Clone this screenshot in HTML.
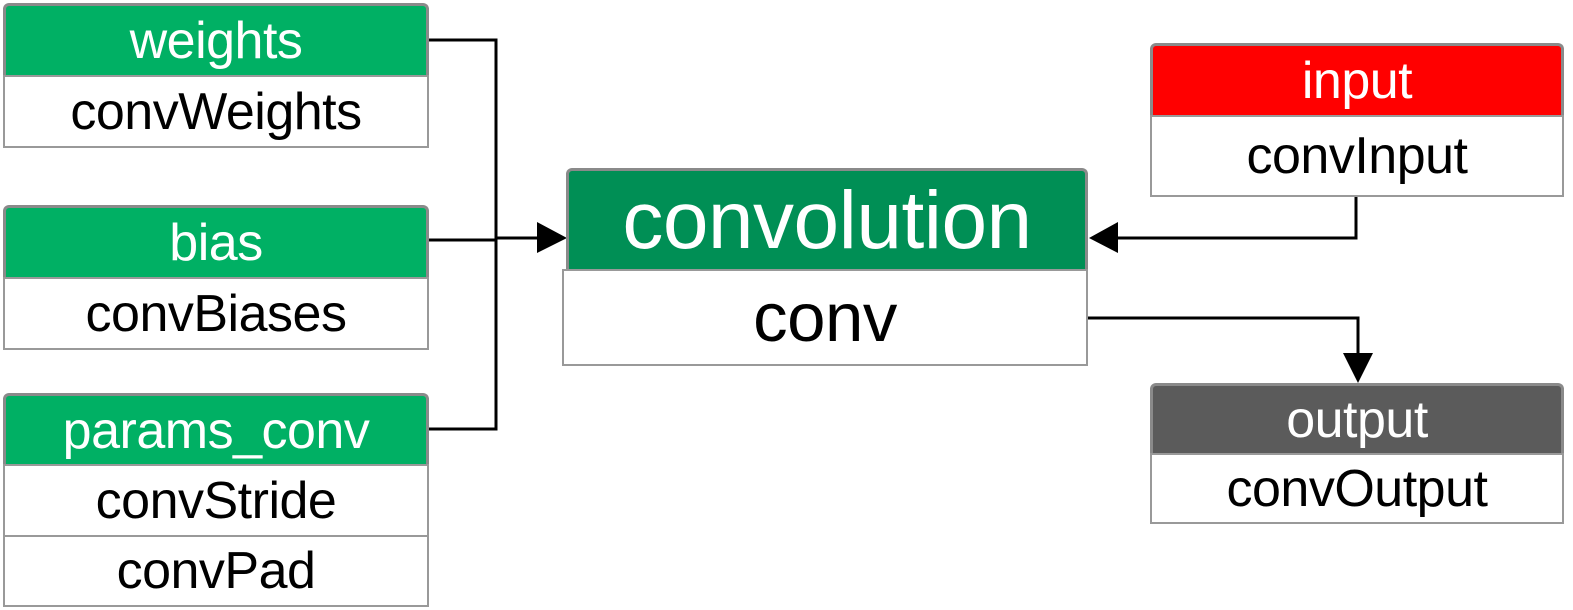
<!DOCTYPE html>
<html><head><style>
body{margin:0;width:1573px;height:610px;background:#fff;position:relative;overflow:hidden;font-family:"Liberation Sans",sans-serif}
.h,.b{position:absolute;box-sizing:border-box;display:flex;align-items:center;justify-content:center;letter-spacing:-0.5px;white-space:nowrap}
.h{border:3px solid #8a8a8a;border-bottom:none;border-radius:6px 6px 0 0;color:#fff;font-size:52px}
.b{border:2px solid #999;background:#fff;color:#000;font-size:52px}
.g{background:#00b064}
</style></head><body>
<svg style="position:absolute;left:0;top:0" width="1573" height="610">
<g stroke="#000" stroke-width="3" fill="none">
<polyline points="428,40 496,40 496,429 428,429"/>
<line x1="428" y1="240" x2="496" y2="240"/>
<line x1="496" y1="238" x2="540" y2="238"/>
<polyline points="1356,196 1356,238 1118,238"/>
<polyline points="1088,318 1358,318 1358,355"/>
</g>
<polygon points="537,222 567,238 537,253" fill="#000"/>
<polygon points="1118,222 1089,238 1118,253" fill="#000"/>
<polygon points="1343,353 1373,353 1358,383" fill="#000"/>
</svg>
<div class="h g" style="left:3px;top:3px;width:426px;height:73px">weights</div>
<div class="b" style="left:3px;top:75px;width:426px;height:73px">convWeights</div>
<div class="h g" style="left:3px;top:205px;width:426px;height:73px">bias</div>
<div class="b" style="left:3px;top:277px;width:426px;height:73px">convBiases</div>
<div class="h g" style="left:3px;top:393px;width:426px;height:72px">params_conv</div>
<div class="b" style="left:3px;top:464px;width:426px;height:73px">convStride</div>
<div class="b" style="left:3px;top:535px;width:426px;height:72px">convPad</div>
<div class="h" style="left:566px;top:168px;width:522px;height:103px;background:#008f55;font-size:82px">convolution</div>
<div class="b" style="left:562px;top:269px;width:526px;height:97px;font-size:69px">conv</div>
<div class="h" style="left:1150px;top:43px;width:414px;height:73px;background:#ff0000">input</div>
<div class="b" style="left:1150px;top:115px;width:414px;height:82px">convInput</div>
<div class="h" style="left:1150px;top:383px;width:414px;height:71px;background:#5b5b5b">output</div>
<div class="b" style="left:1150px;top:453px;width:414px;height:71px">convOutput</div>
</body></html>
